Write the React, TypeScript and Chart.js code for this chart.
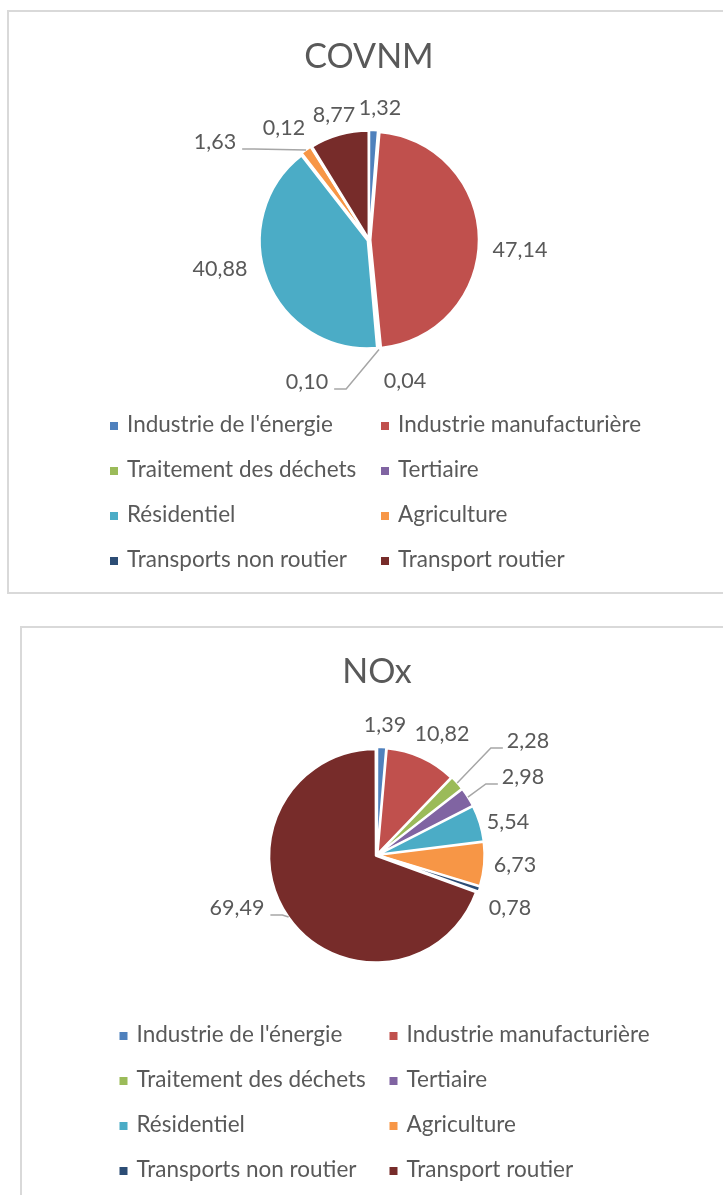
import React, { useEffect, useRef } from "react";
import { Chart, registerables } from "chart.js";

Chart.register(...registerables);

// ---------- data ----------
const categories = [
  "Industrie de l'énergie",
  "Industrie manufacturière",
  "Traitement des déchets",
  "Tertiaire",
  "Résidentiel",
  "Agriculture",
  "Transports non routier",
  "Transport routier",
];
const covnmValues = [1.32, 47.14, 0.04, 0.1, 40.88, 1.63, 0.12, 8.77];
const noxValues = [1.39, 10.82, 2.28, 2.98, 5.54, 6.73, 0.78, 69.49];
const covnmTitle = "COVNM";
const noxTitle = "NOx";

// ---------- style ----------
const sliceColors = ["#4F81BD", "#C0504D", "#9BBB59", "#8064A2", "#4BACC6", "#F79646", "#2C4D75", "#772C2A"];
const FONT = "Lato, 'Open Sans', sans-serif";
const TEXT = "#595959";
const LEADER = "#A6A6A6";

// label placement (offsets from pie centre), leader side where Excel drew one
const covnmLabelPlaces = [
  { dx: 11, dy: -132 },
  { dx: 151, dy: 10 },
  { dx: 36, dy: 141 },
  { dx: -62, dy: 142, leader: "right" },
  { dx: -149, dy: 29 },
  { dx: -154, dy: -98, leader: "right" },
  { dx: -85, dy: -112 },
  { dx: -35, dy: -125 },
];
const noxLabelPlaces = [
  { dx: 8, dy: -130 },
  { dx: 65, dy: -121 },
  { dx: 151, dy: -114, leader: "left" },
  { dx: 146, dy: -78, leader: "left" },
  { dx: 131, dy: -33 },
  { dx: 138, dy: 10 },
  { dx: 133, dy: 53 },
  { dx: -140, dy: 53, leader: "right" },
];

const fmt = (v: number) => v.toFixed(2).replace(".", ",");

const decorPlugin = {
  id: "decor",
  afterDraw(chart: any, _args: any, opts: any) {
    const ctx = chart.ctx as CanvasRenderingContext2D;
    const meta = chart.getDatasetMeta(0);
    const ds = chart.data.datasets[0];
    const values = ds.data as number[];
    const colors = ds.backgroundColor as string[];
    const labels = chart.data.labels as string[];
    ctx.save();
    ctx.fillStyle = TEXT;
    ctx.textAlign = "center";
    ctx.textBaseline = "middle";
    ctx.font = `${opts.titleSize}px ${FONT}`;
    ctx.fillText(opts.title, opts.titleX, opts.titleY);

    ctx.font = `${opts.labelSize}px ${FONT}`;
    meta.data.forEach((el: any, i: number) => {
      const p = el.getProps(["x", "y", "startAngle", "endAngle", "outerRadius", "circumference"], true);
      const place = opts.places[i];
      const lx = p.x + place.dx;
      const ly = p.y + place.dy;
      const text = fmt(values[i]);
      ctx.fillStyle = TEXT;
      ctx.fillText(text, lx, ly);
      if (place.leader) {
        const w = ctx.measureText(text).width;
        const mid = (p.startAngle + p.endAngle) / 2;
        const off = (el.options.offset || 0) / 4;
        const fix = 1 - Math.sin(Math.min(Math.PI, p.circumference || 0));
        const r = p.outerRadius + off * (1 + fix);
        const ax = p.x + Math.cos(mid) * r;
        const ay = p.y + Math.sin(mid) * r;
        const sx = place.leader === "right" ? lx + w / 2 + 6 : lx - w / 2 - 4;
        const sy = ly + 7;
        const ex = place.leader === "right" ? sx + 12 : sx - 12;
        ctx.strokeStyle = LEADER;
        ctx.lineWidth = 1.5;
        ctx.beginPath();
        ctx.moveTo(sx, sy);
        ctx.lineTo(ex, sy);
        ctx.lineTo(ax, ay);
        ctx.stroke();
      }
    });

    // legend: two columns
    ctx.font = `${opts.legendSize}px ${FONT}`;
    ctx.textAlign = "left";
    const ms = 8;
    labels.forEach((lab, i) => {
      const col = i % 2;
      const row = Math.floor(i / 2);
      const mx = opts.legendCols[col];
      const y = opts.legendY0 + row * opts.legendGap;
      ctx.fillStyle = colors[i];
      ctx.fillRect(mx - ms / 2, y - ms / 2 + 1, ms, ms);
      ctx.fillStyle = TEXT;
      ctx.fillText(lab, mx + 13, y);
    });
    ctx.restore();
  },
};

function PieBox(props: {
  values: number[];
  title: string;
  top: number;
  height: number;
  padding: any;
  radius: number;
  decor: any;
}) {
  const ref = useRef<HTMLCanvasElement | null>(null);
  useEffect(() => {
    if (!ref.current) return;
    const chart = new Chart(ref.current, {
      type: "pie",
      data: {
        labels: categories,
        datasets: [
          {
            data: props.values,
            backgroundColor: sliceColors,
            borderColor: "#ffffff",
            borderWidth: 2,
            offset: 6,
            radius: props.radius,
          } as any,
        ],
      },
      options: {
        responsive: false,
        animation: false,
        layout: { padding: props.padding },
        plugins: {
          legend: { display: false },
          title: { display: false },
          tooltip: { enabled: false },
          decor: props.decor,
        } as any,
      },
      plugins: [decorPlugin as any],
    });
    return () => chart.destroy();
  }, []);
  return (
    <canvas
      ref={ref}
      width={723}
      height={props.height}
      style={{ position: "absolute", left: 0, top: props.top, width: 723, height: props.height }}
    />
  );
}

export default function App() {
  return (
    <div
      style={{
        position: "fixed",
        left: 0,
        top: 0,
        width: 723,
        height: 1195,
        overflow: "hidden",
        background: "#ffffff",
      }}
    >
      <div
        style={{
          position: "absolute",
          left: 7,
          top: 10,
          width: 800,
          height: 584,
          border: "2px solid #D9D9D9",
          boxSizing: "border-box",
        }}
      />
      <div
        style={{
          position: "absolute",
          left: 20,
          top: 626,
          width: 800,
          height: 700,
          border: "2px solid #D9D9D9",
          boxSizing: "border-box",
        }}
      />
      <PieBox
        values={covnmValues}
        title={covnmTitle}
        top={0}
        height={600}
        padding={{ left: 100, right: 85, top: 100, bottom: 220 }}
        radius={107}
        decor={{
          title: covnmTitle,
          titleX: 369,
          titleY: 57,
          titleSize: 34,
          labelSize: 21.5,
          legendSize: 22.5,
          places: covnmLabelPlaces,
          legendCols: [114, 385],
          legendY0: 425,
          legendGap: 45,
        }}
      />
      <PieBox
        values={noxValues}
        title={noxTitle}
        top={600}
        height={595}
        padding={{ left: 120, right: 89, top: 120, bottom: 205 }}
        radius={105}
        decor={{
          title: noxTitle,
          titleX: 377,
          titleY: 72,
          titleSize: 34,
          labelSize: 21.5,
          legendSize: 22.5,
          places: noxLabelPlaces,
          legendCols: [123.5, 393.5],
          legendY0: 435,
          legendGap: 45,
        }}
      />
    </div>
  );
}
